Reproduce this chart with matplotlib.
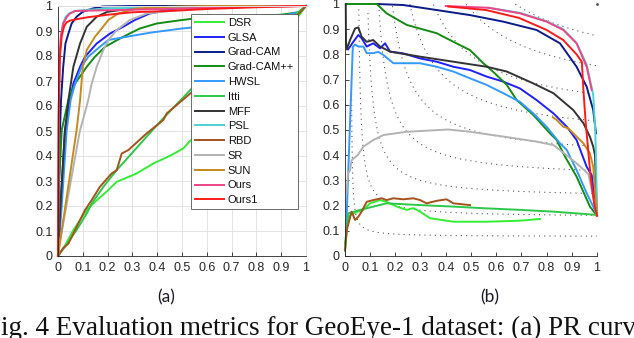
import numpy as np
import matplotlib
matplotlib.use("Agg")
import matplotlib.pyplot as plt

# ---------------- data: panel (a) ----------------
names = ["DSR", "GLSA", "Grad-CAM", "Grad-CAM++", "HWSL", "Itti", "MFF",
         "PSL", "RBD", "SR", "SUN", "Ours", "Ours1"]
colors = ["#33EE33", "#1F1FFF", "#0D1A8A", "#128C12", "#3399FF", "#2BC84A",
          "#333333", "#4CD3D3", "#A4521E", "#B3B3B3", "#C68A1E", "#EE4488", "#FF1A1A"]
tick_vals = [0, 0.1, 0.2, 0.3, 0.4, 0.5, 0.6, 0.7, 0.8, 0.9, 1.0]
tick_labels = ["0", "0.1", "0.2", "0.3", "0.4", "0.5", "0.6", "0.7", "0.8", "0.9", "1"]

a_dsr_x = [0, 0.03, 0.062, 0.116, 0.142, 0.203, 0.237, 0.317, 0.384, 0.45, 0.505, 0.532, 0.55, 0.75, 0.97, 1.0]
a_dsr_y = [0, 0.045, 0.104, 0.184, 0.21, 0.264, 0.297, 0.33, 0.37, 0.40, 0.43, 0.46, 0.475, 0.72, 0.96, 1.0]
a_glsa_x = [0, 0.01, 0.028, 0.048, 0.062, 0.089, 0.109, 0.156, 0.21, 0.263, 0.31, 0.37, 0.45, 0.55, 0.75, 1.0]
a_glsa_y = [0, 0.2, 0.504, 0.624, 0.69, 0.757, 0.797, 0.85, 0.89, 0.917, 0.944, 0.97, 0.985, 0.993, 1.0, 1.0]
a_gcam_x = [0, 0.004, 0.008, 0.012, 0.021, 0.03, 0.042, 0.055, 0.075, 0.10, 0.14, 0.18, 0.3, 1.0]
a_gcam_y = [0, 0.3, 0.5, 0.62, 0.757, 0.85, 0.89, 0.93, 0.957, 0.977, 0.99, 0.998, 1.0, 1.0]
a_gcampp_x = [0, 0.005, 0.015, 0.042, 0.069, 0.116, 0.149, 0.19, 0.263, 0.33, 0.398, 0.5, 0.55, 0.7, 0.9, 0.97, 1.0]
a_gcampp_y = [0, 0.3, 0.504, 0.624, 0.69, 0.757, 0.797, 0.837, 0.877, 0.91, 0.93, 0.944, 0.95, 0.958, 0.965, 0.975, 1.0]
a_hwsl_x = [0, 0.015, 0.035, 0.051, 0.069, 0.095, 0.122, 0.169, 0.203, 0.237, 0.37, 0.5, 0.57, 0.8, 0.92, 0.976, 1.0]
a_hwsl_y = [0, 0.2, 0.504, 0.624, 0.69, 0.757, 0.797, 0.837, 0.864, 0.87, 0.893, 0.91, 0.917, 0.94, 0.964, 0.977, 1.0]
a_itti_x = [0, 0.03, 0.075, 0.116, 0.136, 0.183, 0.237, 0.297, 0.357, 0.418, 0.546, 0.75, 0.95, 1.0]
a_itti_y = [0, 0.04, 0.104, 0.17, 0.21, 0.277, 0.344, 0.41, 0.477, 0.544, 0.677, 0.83, 0.96, 1.0]
a_mff_x = [0, 0.01, 0.028, 0.042, 0.062, 0.089, 0.116, 0.156, 0.20, 0.3, 0.45, 1.0]
a_mff_y = [0, 0.2, 0.5, 0.624, 0.757, 0.85, 0.917, 0.957, 0.977, 0.99, 0.998, 1.0]
a_psl_x = [0, 0.003, 0.006, 0.012, 0.02, 0.03, 0.045, 0.07, 0.12, 0.2, 0.3, 0.45, 0.7, 1.0]
a_psl_y = [0, 0.5, 0.78, 0.88, 0.93, 0.955, 0.97, 0.98, 0.985, 0.99, 0.993, 0.996, 0.998, 1.0]
a_rbd_x = [0, 0.02, 0.042, 0.069, 0.109, 0.136, 0.169, 0.216, 0.237, 0.257, 0.284, 0.357, 0.425, 0.438, 0.55, 0.75, 0.96, 1.0]
a_rbd_y = [0, 0.03, 0.05, 0.104, 0.184, 0.224, 0.277, 0.33, 0.344, 0.41, 0.424, 0.49, 0.544, 0.57, 0.664, 0.81, 0.957, 1.0]
a_sr_x = [0, 0.003, 0.088, 0.105, 0.122, 0.136, 0.156, 0.183, 0.203, 0.237, 0.29, 0.358, 0.45, 0.55, 0.7, 1.0]
a_sr_y = [0, 0.03, 0.50, 0.56, 0.624, 0.69, 0.757, 0.824, 0.864, 0.904, 0.944, 0.97, 0.98, 0.99, 1.0, 1.0]
a_sun_x = [0, 0.075, 0.089, 0.10, 0.116, 0.149, 0.176, 0.203, 0.243, 0.317, 0.45, 0.6, 1.0]
a_sun_y = [0, 0.504, 0.624, 0.757, 0.824, 0.877, 0.91, 0.944, 0.97, 0.99, 0.997, 1.0, 1.0]
a_ours_x = [0, 0.003, 0.006, 0.012, 0.021, 0.035, 0.048, 0.069, 0.15, 0.3, 0.5, 0.7, 1.0]
a_ours_y = [0, 0.55, 0.80, 0.88, 0.93, 0.955, 0.97, 0.98, 0.982, 0.985, 0.99, 0.995, 1.0]
a_ours1_x = [0, 0.003, 0.008, 0.015, 0.025, 0.035, 0.05, 0.08, 0.12, 0.2, 0.3, 0.45, 0.6, 0.8, 1.0]
a_ours1_y = [0, 0.6, 0.8, 0.88, 0.92, 0.935, 0.942, 0.948, 0.955, 0.965, 0.975, 0.98, 0.988, 0.995, 1.0]

# ---------------- data: panel (b) ----------------
b_dsr_r = [0.0, 0.013, 0.033, 0.073, 0.099, 0.139, 0.165, 0.205, 0.245, 0.271, 0.298, 0.337, 0.43, 0.562, 0.694, 0.774]
b_dsr_p = [0.05, 0.156, 0.169, 0.183, 0.209, 0.222, 0.215, 0.196, 0.183, 0.19, 0.176, 0.15, 0.136, 0.136, 0.14, 0.147]
b_glsa_r = [0.012, 0.02, 0.033, 0.053, 0.066, 0.086, 0.112, 0.139, 0.159, 0.179, 0.231, 0.298, 0.364, 0.43, 0.496, 0.562, 0.628, 0.694, 0.76, 0.827, 0.88, 0.919, 0.959, 0.979, 1.0]
b_glsa_p = [0.82, 0.831, 0.85, 0.877, 0.864, 0.831, 0.844, 0.824, 0.844, 0.811, 0.804, 0.784, 0.771, 0.751, 0.738, 0.712, 0.692, 0.665, 0.619, 0.566, 0.513, 0.46, 0.354, 0.321, 0.16]
b_gcam_r = [0.126, 0.231, 0.364, 0.496, 0.628, 0.76, 0.853, 0.919, 0.959, 0.985, 0.996]
b_gcam_p = [1.0, 0.996, 0.976, 0.956, 0.93, 0.897, 0.844, 0.751, 0.672, 0.579, 0.487]
b_gcampp_r = [0.007, 0.126, 0.165, 0.245, 0.364, 0.43, 0.496, 0.549, 0.589, 0.642, 0.681, 0.747, 0.813, 0.84, 0.87, 0.919, 0.972, 1.0]
b_gcampp_p = [1.0, 1.0, 0.963, 0.917, 0.884, 0.85, 0.817, 0.765, 0.73, 0.679, 0.619, 0.56, 0.487, 0.46, 0.40, 0.315, 0.196, 0.16]
b_hwsl_r = [0.004, 0.031, 0.04, 0.053, 0.073, 0.086, 0.112, 0.132, 0.152, 0.192, 0.298, 0.364, 0.43, 0.496, 0.562, 0.628, 0.694, 0.747, 0.8, 0.853, 0.88, 0.919, 0.959, 0.985, 1.0]
b_hwsl_p = [0.09, 0.83, 0.839, 0.831, 0.831, 0.805, 0.805, 0.81, 0.798, 0.765, 0.765, 0.751, 0.732, 0.705, 0.679, 0.646, 0.612, 0.566, 0.513, 0.447, 0.421, 0.341, 0.249, 0.196, 0.16]
b_itti_r = [0.0, 0.013, 0.06, 0.165, 0.298, 0.43, 0.562, 0.694, 0.827, 1.0]
b_itti_p = [0.02, 0.169, 0.183, 0.209, 0.202, 0.196, 0.189, 0.183, 0.176, 0.163]
b_mff_r = [0.003, 0.004, 0.006, 0.01, 0.02, 0.04, 0.053, 0.066, 0.086, 0.112, 0.139, 0.179, 0.298, 0.43, 0.562, 0.642, 0.747, 0.827, 0.906, 0.946, 0.972, 0.985, 0.992, 1.0]
b_mff_p = [1.0, 0.85, 0.82, 0.83, 0.857, 0.903, 0.907, 0.87, 0.85, 0.857, 0.831, 0.811, 0.791, 0.771, 0.751, 0.732, 0.685, 0.646, 0.579, 0.527, 0.473, 0.434, 0.40, 0.16]
b_psl_r = [0.57, 0.694, 0.8, 0.866, 0.919, 0.959, 0.985, 0.993, 0.997, 1.0]
b_psl_p = [0.985, 0.965, 0.932, 0.9, 0.845, 0.76, 0.64, 0.5, 0.35, 0.16]
b_rbd_r = [0.0, 0.007, 0.026, 0.04, 0.053, 0.066, 0.086, 0.112, 0.146, 0.165, 0.192, 0.231, 0.271, 0.298, 0.324, 0.364, 0.403, 0.43, 0.496]
b_rbd_p = [0.024, 0.103, 0.176, 0.143, 0.156, 0.176, 0.215, 0.222, 0.229, 0.222, 0.229, 0.225, 0.229, 0.222, 0.209, 0.219, 0.225, 0.209, 0.202]
b_sr_r = [0.006, 0.012, 0.02, 0.026, 0.05, 0.073, 0.112, 0.152, 0.245, 0.41, 0.496, 0.628, 0.76, 0.827, 0.866, 0.919, 0.966, 1.0]
b_sr_p = [0.25, 0.33, 0.34, 0.38, 0.40, 0.434, 0.46, 0.48, 0.493, 0.502, 0.493, 0.474, 0.454, 0.44, 0.41, 0.368, 0.325, 0.16]
b_sun_r = [0.825, 0.84, 0.866, 0.886, 0.906, 0.933, 0.946, 0.972, 0.985, 1.0]
b_sun_p = [0.55, 0.54, 0.513, 0.507, 0.487, 0.46, 0.447, 0.407, 0.354, 0.16]
b_ours_r = [0.40, 0.57, 0.694, 0.8, 0.866, 0.919, 0.959, 0.979]
b_ours_p = [0.992, 0.985, 0.963, 0.93, 0.897, 0.844, 0.751, 0.659]
b_ours1_r = [0.41, 0.56, 0.69, 0.8, 0.866, 0.919, 0.94, 0.946, 0.955, 0.965, 0.975, 0.99, 1.0]
b_ours1_p = [0.99, 0.976, 0.945, 0.897, 0.857, 0.8, 0.77, 0.66, 0.53, 0.42, 0.31, 0.2, 0.16]

# F-measure iso-lines (beta^2 = 0.3)
f_levels = [0.1, 0.2, 0.3, 0.4, 0.5, 0.6, 0.7, 0.8, 0.9]
beta2 = 0.3

a_series = [(a_dsr_x, a_dsr_y), (a_glsa_x, a_glsa_y), (a_gcam_x, a_gcam_y), (a_gcampp_x, a_gcampp_y),
            (a_hwsl_x, a_hwsl_y), (a_itti_x, a_itti_y), (a_mff_x, a_mff_y), (a_psl_x, a_psl_y),
            (a_rbd_x, a_rbd_y), (a_sr_x, a_sr_y), (a_sun_x, a_sun_y), (a_ours_x, a_ours_y),
            (a_ours1_x, a_ours1_y)]
b_series = [(b_dsr_r, b_dsr_p), (b_glsa_r, b_glsa_p), (b_gcam_r, b_gcam_p), (b_gcampp_r, b_gcampp_p),
            (b_hwsl_r, b_hwsl_p), (b_itti_r, b_itti_p), (b_mff_r, b_mff_p), (b_psl_r, b_psl_p),
            (b_rbd_r, b_rbd_p), (b_sr_r, b_sr_p), (b_sun_r, b_sun_p), (b_ours_r, b_ours_p),
            (b_ours1_r, b_ours1_p)]

W, H = 634, 338
fig = plt.figure(figsize=(W / 100, H / 100), dpi=100)
plt.rcParams['font.family'] = ['Liberation Sans', 'DejaVu Sans']
axcol = '#262626'

def px_axes(l, t, r, b):
    return fig.add_axes([l / W, 1 - b / H, (r - l) / W, (b - t) / H])

def style(ax):
    ax.set_xlim(0, 1)
    ax.set_ylim(0, 1)
    ax.set_xticks(tick_vals)
    ax.set_xticklabels(tick_labels)
    ax.set_yticks(tick_vals)
    ax.set_yticklabels(tick_labels)
    ax.tick_params(direction='in', length=3, width=0.6, color=axcol,
                   labelsize=9, labelcolor=axcol, pad=4)
    for s in ['left', 'bottom']:
        ax.spines[s].set_color(axcol)
        ax.spines[s].set_linewidth(0.6)

# panel (a)
axa = px_axes(58, 6, 306, 256)
style(axa)
axa.grid(True, color='#E3E3E3', linewidth=0.7)
axa.set_axisbelow(True)
for s in ['top', 'right']:
    axa.spines[s].set_color('#E0E0E0')
    axa.spines[s].set_linewidth(0.7)
for (x, y), n, c in zip(a_series, names, colors):
    axa.plot(x, y, color=c, lw=1.4, label=n, clip_on=False)
leg = axa.legend(loc='upper right', bbox_to_anchor=(298 / W, 1 - 14 / H),
                 bbox_transform=fig.transFigure, borderaxespad=0,
                 fontsize=8, handlelength=2.6, handletextpad=0.35,
                 labelspacing=0.43, borderpad=0.35, fancybox=False,
                 framealpha=1, edgecolor='#555555')
leg.get_frame().set_linewidth(0.6)
for t in leg.get_texts():
    t.set_color('#111111')

# panel (b)
axb = px_axes(345, 4, 597, 256)
style(axb)
axb.spines['top'].set_visible(False)
axb.spines['right'].set_visible(False)
rr = np.linspace(0.001, 1.0, 800)
for f in f_levels:
    den = (1 + beta2) * rr - beta2 * f
    with np.errstate(divide='ignore', invalid='ignore'):
        pp = f * rr / den
    ok = (den > 0) & (pp <= 1.0)
    axb.plot(rr[ok], pp[ok], color='#444444', lw=0.75, linestyle=(0, (1, 4)))
axb.plot([1.0], [1.0], marker='.', color='#555555', ms=2, clip_on=False)
for (r, p), n, c in zip(b_series, names, colors):
    axb.plot(r, p, color=c, lw=1.4, label=n, clip_on=False)

# sub-captions and figure caption
fig.text(166 / W, 1 - 297 / H, "(a)", ha='center', va='center', fontsize=12.5,
         family=['Lato', 'DejaVu Sans'], color='#1a1a2a')
fig.text(490 / W, 1 - 297 / H, "(b)", ha='center', va='center', fontsize=12.5,
         family=['Lato', 'DejaVu Sans'], color='#1a1a2a')
fig.text(-14 / W, 1 - 335 / H, "Fig. 4 Evaluation metrics for GeoEye-1 dataset: (a) PR curves",
         ha='left', va='baseline', fontsize=19.5, family=['Liberation Serif', 'DejaVu Serif'],
         color='#111111')

fig.savefig("out.png", dpi=100)
